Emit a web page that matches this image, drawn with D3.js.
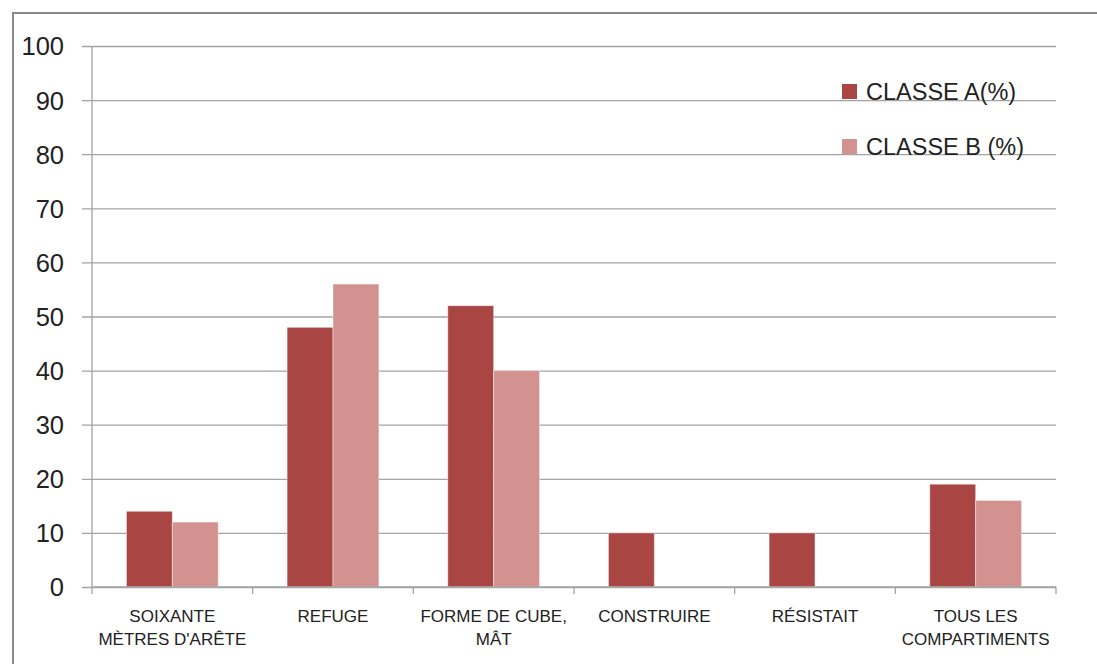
<!DOCTYPE html>
<html>
<head>
<meta charset="utf-8">
<script src="https://cdn.jsdelivr.net/npm/d3@7"></script>
<style>
  html, body { margin: 0; padding: 0; background: #fff; overflow: hidden; }
  svg { display: block; font-family: "Liberation Sans", Arial, sans-serif; }
</style>
</head>
<body>
<svg></svg>
<script>
var categories = [
  ["SOIXANTE", "MÈTRES D'ARÊTE"],
  ["REFUGE"],
  ["FORME DE CUBE,", "MÂT"],
  ["CONSTRUIRE"],
  ["RÉSISTAIT"],
  ["TOUS LES", "COMPARTIMENTS"]
];
var seriesNames = ["CLASSE A(%)", "CLASSE B (%)"];
var classeA = [14, 48, 52, 10, 10, 19];
var classeB = [12, 56, 40, 0, 0, 16];
var yTicks = [0, 10, 20, 30, 40, 50, 60, 70, 80, 90, 100];

var screen = { width: 1097, height: 664 };
var margins = { top: 46, bottom: 77, left: 92, right: 41 };
var colors = ["#a94644", "#d39190"];

var graphWidth = screen.width - margins.left - margins.right;
var graphHeight = screen.height - margins.top - margins.bottom;

var svg = d3.select("svg")
  .attr("width", screen.width)
  .attr("height", screen.height);

// chart frame (runs off the right and bottom edges)
svg.append("rect")
  .attr("x", 13).attr("y", 13)
  .attr("width", 1200).attr("height", 1000)
  .attr("fill", "none")
  .attr("stroke", "#8a8a8a")
  .attr("stroke-width", 2);

var idx = d3.range(categories.length);
var xScale = d3.scaleBand()
  .domain(idx)
  .range([0, graphWidth]);

var barW = xScale.bandwidth() / 3.5;
var xInner = d3.scaleBand()
  .domain([0, 1])
  .range([barW * 0.75, barW * 2.75]);

var yScale = d3.scaleLinear()
  .domain([0, 100])
  .range([graphHeight, 0]);

var plot = svg.append("g")
  .attr("transform", "translate(" + margins.left + "," + margins.top + ")");

// gridlines + y ticks
var yAxis = d3.axisLeft(yScale)
  .tickValues(yTicks)
  .tickSize(-graphWidth)
  .tickFormat(d3.format("d"));

var yG = plot.append("g").call(yAxis);
yG.select(".domain").remove();
yG.selectAll(".tick line")
  .attr("x1", -10)
  .attr("stroke", "#a3a3a3")
  .attr("stroke-width", 1.3);
yG.selectAll(".tick text")
  .attr("font-size", 25.5)
  .attr("fill", "#222")
  .attr("x", -28)
  .attr("dy", "0.35em");

// bars
var data = idx.map(function(i) { return [classeA[i], classeB[i]]; });
var groups = plot.selectAll("g.cat")
  .data(data)
  .enter()
  .append("g")
  .classed("cat", true)
  .attr("transform", function(d, i) { return "translate(" + xScale(i) + ",0)"; });

groups.selectAll("rect")
  .data(function(d) { return d; })
  .enter()
  .append("rect")
  .filter(function(d) { return d > 0; })
  .attr("x", function(d, j) { return xInner(j); })
  .attr("y", function(d) { return yScale(d); })
  .attr("width", xInner.bandwidth())
  .attr("height", function(d) { return graphHeight - yScale(d); })
  .attr("fill", function(d, j) { return colors[j]; })
  .attr("stroke", "rgba(255,255,255,0.45)")
  .attr("stroke-width", 1);

// y axis line
plot.append("line")
  .attr("x1", 0).attr("x2", 0)
  .attr("y1", 0).attr("y2", graphHeight)
  .attr("stroke", "#a3a3a3")
  .attr("stroke-width", 1.3);

// x axis with ticks at band edges
var xG = plot.append("g")
  .attr("transform", "translate(0," + graphHeight + ")");
xG.append("line")
  .attr("x1", 0).attr("x2", graphWidth)
  .attr("stroke", "#a3a3a3").attr("stroke-width", 1.3);
xG.selectAll("line.tk")
  .data(d3.range(categories.length + 1))
  .enter()
  .append("line")
  .classed("tk", true)
  .attr("x1", function(d) { return d * xScale.step(); })
  .attr("x2", function(d) { return d * xScale.step(); })
  .attr("y1", 0).attr("y2", 7)
  .attr("stroke", "#a3a3a3").attr("stroke-width", 1.3);

var labels = xG.selectAll("text")
  .data(categories)
  .enter()
  .append("text")
  .attr("text-anchor", "middle")
  .attr("font-size", 17)
  .attr("fill", "#222")
  .attr("transform", function(d, i) {
    return "translate(" + (xScale(i) + xScale.bandwidth() / 2) + ",35)";
  });
labels.selectAll("tspan")
  .data(function(d) { return d; })
  .enter()
  .append("tspan")
  .attr("x", 0)
  .attr("y", function(d, k) { return k * 22.5; })
  .text(function(d) { return d; });

// legend
var legend = svg.append("g")
  .attr("transform", "translate(842,84)");
var legendLines = legend.selectAll("g")
  .data(seriesNames)
  .enter()
  .append("g")
  .attr("transform", function(d, i) { return "translate(0," + (i * 55) + ")"; });
legendLines.append("rect")
  .attr("width", 15).attr("height", 15)
  .attr("fill", function(d, i) { return colors[i]; });
legendLines.append("text")
  .attr("x", 24)
  .attr("y", 15.5)
  .attr("font-size", 23.5)
  .attr("fill", "#222")
  .text(function(d) { return d; });
</script>
</body>
</html>
